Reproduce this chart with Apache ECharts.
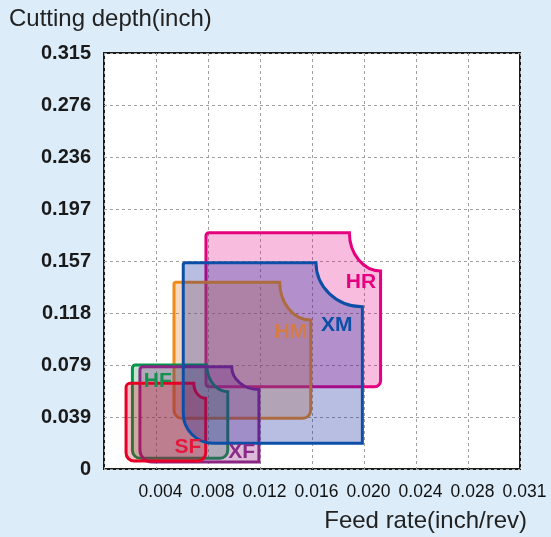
<!DOCTYPE html>
<html>
<head>
<meta charset="utf-8">
<script src="https://cdn.jsdelivr.net/npm/echarts@6/dist/echarts.min.js"></script>
<style>
  html, body { margin: 0; padding: 0; background: #dcedf9; }
  #chart { width: 551px; height: 537px; }
</style>
</head>
<body>
<div id="chart"></div>
<script>
// axes are in inch (1 mm = 0.03937 in)
const xStep = 0.003937
const yStep = 0.03937
const xTickLabels = ['', '0.004', '0.008', '0.012', '0.016', '0.020', '0.024', '0.028', '0.031']
const yTickLabels = ['0', '0.039', '0.079', '0.118', '0.157', '0.197', '0.236', '0.276', '0.315']

// grade areas, drawing order (bottom -> top)
const grades     = ['HR', 'HM', 'HF', 'XF', 'SF', 'XM']
const feedMin    = [0.00772, 0.0053, 0.00215, 0.00272, 0.00167, 0.0060]
const feedMax    = [0.02094, 0.01565, 0.00937, 0.01173, 0.0077, 0.01956]
const feedNotch  = [0.01858, 0.0133, 0.00778, 0.00967, 0.0068, 0.01605]
const depthMin   = [0.0623, 0.0384, 0.0081, 0.0053, 0.0061, 0.01945]
const depthMax   = [0.1789, 0.1413, 0.0787, 0.0774, 0.0649, 0.1562]
const depthNotch = [0.150, 0.1128, 0.0585, 0.0602, 0.0535, 0.1229]
const labelFeed  = [0.01946, 0.01414, 0.00407, 0.01043, 0.00635, 0.01762]
const labelDepth = [0.1412, 0.1032, 0.0661, 0.01265, 0.0168, 0.1088]

const font = 'Liberation Sans'
const lineColors = { HM: '#ef8a17', HR: '#e4007f', HF: '#00954a', XF: '#8b2583', SF: '#e60026', XM: '#0d4ea6' }
const fillColors = {
  HM: 'rgba(225,125,45,0.3)',
  HR: 'rgba(228,0,127,0.26)',
  HF: 'rgba(0,150,70,0.25)',
  XF: 'rgba(140,30,130,0.3)',
  SF: 'rgba(230,0,18,0.25)',
  XM: 'rgba(20,40,160,0.3)'
}
const textColors = { HM: '#d47c48', HR: '#e4007f', HF: '#12924e', XF: '#8a2a88', SF: '#e3173c', XM: '#0d4ea6' }
// corner radius in px: top-left, bottom-right, bottom-left
const corners = { HM: [2, 8, 8], HR: [3, 6, 3], HF: [3, 8, 8], XF: [3, 0, 12], SF: [4, 8, 8], XM: [2, 0, 30] }

const areaData = grades.map((g, i) => [feedMin[i], feedMax[i], feedNotch[i], depthMin[i], depthMax[i], depthNotch[i]])
const labelData = grades.map((g, i) => [labelFeed[i], labelDepth[i]])

function renderArea(params, api) {
  const g = grades[params.dataIndex]
  const tl = api.coord([api.value(0), api.value(4)])
  const br = api.coord([api.value(1), api.value(3)])
  const n = api.coord([api.value(2), api.value(5)])
  const L = tl[0], T = tl[1], R = br[0], B = br[1], NX = n[0], NY = n[1]
  const r = corners[g]
  const rx = R - NX, ry = NY - T
  let d = 'M' + L + ' ' + (T + r[0]) + ' A' + r[0] + ' ' + r[0] + ' 0 0 1 ' + (L + r[0]) + ' ' + T
  d += ' L' + NX + ' ' + T + ' A' + rx + ' ' + ry + ' 0 0 0 ' + R + ' ' + NY
  d += ' L' + R + ' ' + (B - r[1])
  if (r[1]) d += ' A' + r[1] + ' ' + r[1] + ' 0 0 1 ' + (R - r[1]) + ' ' + B
  d += ' L' + (L + r[2]) + ' ' + B
  if (r[2]) d += ' A' + r[2] + ' ' + r[2] + ' 0 0 1 ' + L + ' ' + (B - r[2])
  d += ' Z'
  return {
    type: 'path',
    shape: { pathData: d },
    style: { fill: fillColors[g], stroke: lineColors[g], lineWidth: 3 }
  }
}

function renderLabel(params, api) {
  const g = grades[params.dataIndex]
  const p = api.coord([api.value(0), api.value(1)])
  return {
    type: 'text',
    style: {
      text: g, x: p[0], y: p[1], fill: textColors[g],
      fontSize: 21, fontWeight: 'bold', fontFamily: font,
      align: 'center', verticalAlign: 'middle'
    }
  }
}

const chart = echarts.init(document.getElementById('chart'))
chart.setOption({
  backgroundColor: '#dcedf9',
  animation: false,
  title: {
    text: 'Cutting depth(inch)', left: 9, top: 7, padding: 0,
    textStyle: { fontSize: 24, fontWeight: 'normal', color: '#222', fontFamily: font }
  },
  grid: {
    left: 104, right: 31, top: 53, bottom: 68,
    show: true, backgroundColor: '#fff', borderColor: '#1a1a1a', borderWidth: 2
  },
  xAxis: {
    type: 'value', min: 0, max: 8 * xStep, interval: xStep,
    name: 'Feed rate(inch/rev)', nameLocation: 'end', nameGap: 7,
    nameTextStyle: {
      align: 'right', verticalAlign: 'top', padding: [40, 0, 0, 0],
      fontSize: 24, color: '#222', fontFamily: font
    },
    axisLine: { show: false },
    axisTick: { show: false },
    axisLabel: {
      formatter: v => xTickLabels[Math.round(v / xStep)],
      fontSize: 17.5, color: '#111', fontFamily: font, margin: 14,
      padding: [0, 0, 0, 9], showMaxLabel: true
    },
    splitLine: { lineStyle: { color: '#a0a0a0', width: 1, type: [3, 3] } }
  },
  yAxis: {
    type: 'value', min: 0, max: 8 * yStep, interval: yStep,
    axisLine: { show: false },
    axisTick: { show: false },
    axisLabel: {
      formatter: v => yTickLabels[Math.round(v / yStep)],
      fontSize: 20, fontWeight: 'bold', color: '#1a1a1a', fontFamily: font,
      margin: 13, padding: [14, 0, 0, 0], showMaxLabel: true
    },
    splitLine: { lineStyle: { color: '#a0a0a0', width: 1, type: [3, 3] } }
  },
  series: [{
    type: 'custom',
    renderItem: renderArea,
    data: areaData,
    encode: { x: [0, 1, 2], y: [3, 4, 5] }
  }, {
    type: 'custom',
    renderItem: renderLabel,
    data: labelData,
    encode: { x: 0, y: 1 },
    z: 5
  }]
})
</script>
</body>
</html>
